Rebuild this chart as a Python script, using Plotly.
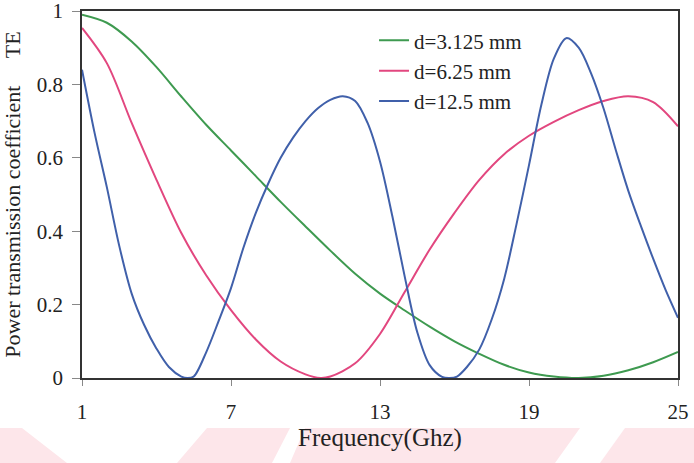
import plotly.graph_objects as go

# ---- data ----
freq_green = [1, 2, 3, 4, 5, 6, 7, 8, 9, 10, 11, 12, 13, 14, 15, 16, 17, 18, 19, 20, 21, 22, 23, 24, 25]
te_green = [0.99, 0.968, 0.917, 0.847, 0.767, 0.69, 0.62, 0.55, 0.48, 0.413, 0.347, 0.284, 0.23, 0.184, 0.14, 0.10,
            0.066, 0.036, 0.015, 0.004, 0.0, 0.006, 0.021, 0.043, 0.071]

freq_pink = [1, 2, 3, 4, 5, 6, 7, 8, 9, 10, 10.6, 11, 12, 13, 14, 15, 16, 17, 18, 19, 20, 21, 22, 23, 24, 25]
te_pink = [0.954, 0.858, 0.695, 0.54, 0.395, 0.28, 0.185, 0.105, 0.045, 0.01, 0.0, 0.004, 0.04, 0.12, 0.235, 0.35,
           0.45, 0.54, 0.61, 0.66, 0.698, 0.73, 0.755, 0.768, 0.752, 0.686]

freq_blue = [1, 1.5, 2, 2.5, 3, 3.5, 4, 4.5, 5, 5.25, 5.5, 6, 6.5, 7, 7.5, 8, 8.5, 9, 9.5, 10, 10.5, 11, 11.5,
             12, 12.5, 13, 13.5, 14, 14.5, 15, 15.5, 15.8, 16.1, 16.5, 17, 17.5, 18, 18.5, 19, 19.5, 20, 20.5,
             21, 21.5, 22, 22.5, 23, 23.5, 24, 24.5, 25]
te_blue = [0.84, 0.67, 0.52, 0.36, 0.23, 0.145, 0.08, 0.03, 0.004, 0.0, 0.004, 0.07, 0.155, 0.245, 0.355, 0.45,
           0.53, 0.6, 0.655, 0.70, 0.735, 0.758, 0.768, 0.755, 0.695, 0.59, 0.44, 0.275, 0.125, 0.035, 0.003, 0.0,
           0.004, 0.03, 0.078, 0.16, 0.27, 0.42, 0.58, 0.745, 0.87, 0.926, 0.9, 0.83, 0.735, 0.62, 0.51, 0.415,
           0.325, 0.24, 0.164]

series_names = ["d=3.125 mm", "d=6.25 mm", "d=12.5 mm"]
x_ticks = [1, 7, 13, 19, 25]
y_ticks = [0, 0.2, 0.4, 0.6, 0.8, 1]
y_tick_text = ["0", "0.2", "0.4", "0.6", "0.8", "1"]

colors = ["#3e9a50", "#e2477f", "#4060aa"]
FONT = "Liberation Serif, Times New Roman, serif"
FS = 21

fig = go.Figure()
for xs, ys, name, c in [(freq_green, te_green, series_names[0], colors[0]),
                        (freq_pink, te_pink, series_names[1], colors[1]),
                        (freq_blue, te_blue, series_names[2], colors[2])]:
    fig.add_trace(go.Scatter(x=xs, y=ys, mode="lines", name=name,
                             line=dict(color=c, width=2, shape="spline", smoothing=0.9)))

# faint pink watermark bands at the bottom (decoration), pixel -> paper conversion
L, R, T, B = 82, 678, 11, 378
W, H = R - L, B - T
def pp(px, py):
    return (px - L) / W, (B - py) / H

polys = [
    [(0, 428), (22, 428), (67, 463), (0, 463)],
    [(207, 428), (290, 428), (272, 463), (177, 463)],
    [(305, 428), (580, 428), (555, 463), (290, 463)],
    [(625, 428), (694, 428), (694, 463), (600, 463)],
]
shapes = []
for poly in polys:
    pts = [pp(a, b) for a, b in poly]
    path = "M " + " L ".join(f"{x:.4f},{y:.4f}" for x, y in pts) + " Z"
    shapes.append(dict(type="path", xref="paper", yref="paper", path=path,
                       fillcolor="#fde6ea", line=dict(width=0), layer="below"))

fig.update_layout(
    width=694, height=463,
    margin=dict(l=L, r=694 - R, t=T, b=463 - B),
    paper_bgcolor="white", plot_bgcolor="white",
    font=dict(family=FONT, size=FS, color="#222222"),
    showlegend=True,
    legend=dict(x=0.49, y=0.975, xanchor="left", yanchor="top",
                bgcolor="rgba(0,0,0,0)", borderwidth=0,
                font=dict(family=FONT, size=FS, color="#222222"),
                itemwidth=30, tracegroupgap=0),
    shapes=shapes,
)
fig.update_xaxes(range=[1, 25], tickmode="array", tickvals=x_ticks, automargin=False,
                 showgrid=False, zeroline=False, ticklabeloverflow="allow",
                 showline=True, linecolor="#333333", linewidth=1.5, mirror=True,
                 ticks="outside", ticklen=6, tickcolor="#888888", ticklabelstandoff=8,
                 tickfont=dict(family=FONT, size=FS),
                 title=dict(text="Frequency(Ghz)", font=dict(family=FONT, size=25), standoff=6))
fig.update_yaxes(range=[0, 1], tickmode="array", tickvals=y_ticks, ticktext=y_tick_text, automargin=False,
                 showgrid=False, zeroline=False, ticklabeloverflow="allow",
                 showline=True, linecolor="#333333", linewidth=1.5, mirror=True,
                 ticks="outside", ticklen=8, tickcolor="#888888", ticklabelstandoff=5,
                 tickfont=dict(family=FONT, size=FS),
                 title=dict(text="Power transmission coefficient" + "\u00a0" * 5 + "TE",
                            font=dict(family=FONT, size=22), standoff=12))

fig.write_html("out.html")
